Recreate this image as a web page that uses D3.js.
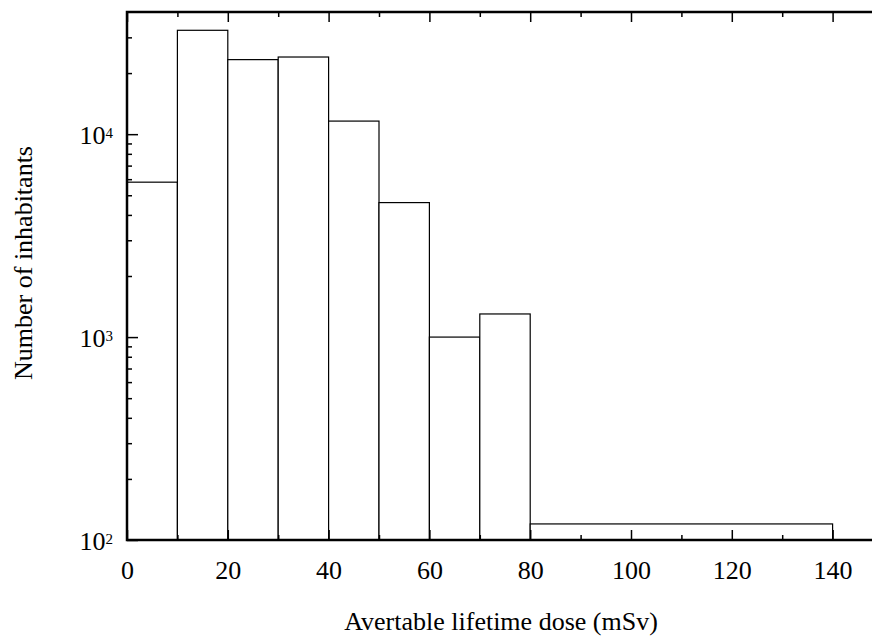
<!DOCTYPE html>
<html>
<head>
<meta charset="utf-8">
<script src="https://cdn.jsdelivr.net/npm/d3@7"></script>
<style>
body { margin: 0; background: #fff; }
svg { display: block; font-family: "Liberation Serif", "DejaVu Serif", serif; }
</style>
</head>
<body>
<svg id="chart" width="872" height="636"></svg>
<script>
"use strict";

// histogram bins (mSv) and counts
var binStart = [0, 10, 20, 30, 40, 50, 60, 70, 80];
var binEnd = [10, 20, 30, 40, 50, 60, 70, 80, 140];
var counts = [5800, 32500, 23300, 24000, 11600, 4600, 1000, 1300, 120];

var xMajor = [0, 20, 40, 60, 80, 100, 120, 140];
var xMinor = [10, 30, 50, 70, 90, 110, 130];
var yMajor = [100, 1000, 10000];
var yMinor = [200, 300, 400, 500, 600, 700, 800, 900,
    2000, 3000, 4000, 5000, 6000, 7000, 8000, 9000, 20000, 30000];
var yExp = [2, 3, 4];

var svg = d3.select("#chart");

var plotLeft = 127, plotRight = 883, plotTop = 12, plotBottom = 540;

var x = d3.scaleLinear().domain([0, 150]).range([plotLeft, plotRight]);
var y = d3.scaleLog().domain([100, 40000]).range([plotBottom, plotTop]);

// bars
svg.append("g")
    .selectAll("rect")
    .data(counts)
    .enter().append("rect")
    .attr("x", function(d, i) { return x(binStart[i]); })
    .attr("y", function(d) { return y(d); })
    .attr("width", function(d, i) { return x(binEnd[i]) - x(binStart[i]); })
    .attr("height", function(d) { return plotBottom - y(d); })
    .attr("fill", "#fff")
    .attr("stroke", "#000")
    .attr("stroke-width", 1.2);

function styleAxis(g, w) {
    g.select(".domain").remove();
    g.selectAll(".tick line").attr("stroke", "#000").attr("stroke-width", w);
    g.selectAll("text").attr("fill", "#000").style("font-size", "26px")
        .style("font-family", "'Liberation Serif', serif");
}

// bottom axis
var gx = svg.append("g").attr("transform", "translate(0," + plotBottom + ")")
    .call(d3.axisBottom(x).tickValues(xMajor).tickSize(-10).tickPadding(21)
        .tickFormat(d3.format("d")));
styleAxis(gx, 1.5);
var gx2 = svg.append("g").attr("transform", "translate(0," + plotBottom + ")")
    .call(d3.axisBottom(x).tickValues(xMinor).tickSize(-5).tickFormat(""));
styleAxis(gx2, 1.5);

// top ticks
var gt = svg.append("g").attr("transform", "translate(0," + plotTop + ")")
    .call(d3.axisTop(x).tickValues(xMajor).tickSize(-10).tickFormat(""));
styleAxis(gt, 1.5);
var gt2 = svg.append("g").attr("transform", "translate(0," + plotTop + ")")
    .call(d3.axisTop(x).tickValues(xMinor).tickSize(-5).tickFormat(""));
styleAxis(gt2, 1.5);

// left axis
var gy = svg.append("g").attr("transform", "translate(" + plotLeft + ",0)")
    .call(d3.axisLeft(y).tickValues(yMajor).tickSize(-11).tickPadding(14)
        .tickFormat(function() { return ""; }));
styleAxis(gy, 1.5);
gy.selectAll(".tick text").each(function(d, i) {
    var t = d3.select(this).attr("dy", "0.36em");
    t.append("tspan").text("10");
    t.append("tspan").attr("dy", "-0.42em").style("font-size", "15px").text(yExp[i]);
});
var gy2 = svg.append("g").attr("transform", "translate(" + plotLeft + ",0)")
    .call(d3.axisLeft(y).tickValues(yMinor).tickSize(-5).tickFormat(""));
styleAxis(gy2, 1.5);

// right ticks
var gr = svg.append("g").attr("transform", "translate(" + plotRight + ",0)")
    .call(d3.axisRight(y).tickValues(yMajor).tickSize(-11).tickFormat(""));
styleAxis(gr, 1.5);
var gr2 = svg.append("g").attr("transform", "translate(" + plotRight + ",0)")
    .call(d3.axisRight(y).tickValues(yMinor).tickSize(-5).tickFormat(""));
styleAxis(gr2, 1.5);

// frame
svg.append("rect")
    .attr("x", plotLeft).attr("y", plotTop)
    .attr("width", plotRight - plotLeft).attr("height", plotBottom - plotTop)
    .attr("fill", "none").attr("stroke", "#000").attr("stroke-width", 2.5);

// axis titles
svg.append("text")
    .attr("x", 501).attr("y", 630)
    .attr("text-anchor", "middle")
    .style("font-size", "26px")
    .text("Avertable lifetime dose (mSv)");

svg.append("text")
    .attr("transform", "translate(32,263) rotate(-90)")
    .attr("text-anchor", "middle")
    .style("font-size", "26px")
    .text("Number of inhabitants");
</script>
</body>
</html>
